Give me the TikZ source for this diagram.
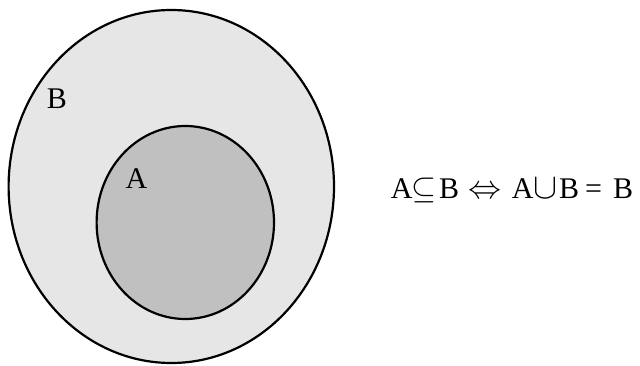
\documentclass[tikz,border=0pt]{standalone}
\usepackage{fontspec}
\setmainfont{Liberation Serif}
\definecolor{outerfill}{HTML}{E6E6E6}
\definecolor{innerfill}{HTML}{C0C0C0}
\newcommand{\gl}[1]{\makebox[0pt]{#1}}
\newcommand{\sym}[2]{\makebox[0pt]{\resizebox{#1}{!}{$#2$}}}
\tikzset{
  setshape/.style={draw=black, line width=2.2pt},
  setlabel/.style={anchor=base, inner sep=0pt, font=\fontsize{30}{36}\selectfont},
  formula/.style={anchor=base west, inner sep=0pt, font=\fontsize{30}{36}\selectfont}
}
\begin{document}
\begin{tikzpicture}[x=1pt,y=-1pt]
\useasboundingbox (0,0) rectangle (640,366);
\draw[setshape, fill=outerfill] (171.3,186.5) ellipse [x radius=162.7, y radius=176.5];
\draw[setshape, fill=innerfill] (185.3,222.5) ellipse [x radius=88.7, y radius=96.5];
\node[setlabel] (labB) at (57,109) {B};
\node[setlabel] (labA) at (136.5,189) {A};
\node[formula] (eq) at (401.5,199) {\gl{A}\hspace{22.5pt}\sym{25pt}{\subseteq}\hspace{25pt}\gl{B}\hspace{36pt}\sym{33pt}{\Leftrightarrow}\hspace{37.5pt}\gl{A}\hspace{22.5pt}\sym{24pt}{\cup}\hspace{24pt}\gl{B}\hspace{24.5pt}\gl{=}\hspace{29.5pt}\gl{B}};
\end{tikzpicture}
\end{document}
